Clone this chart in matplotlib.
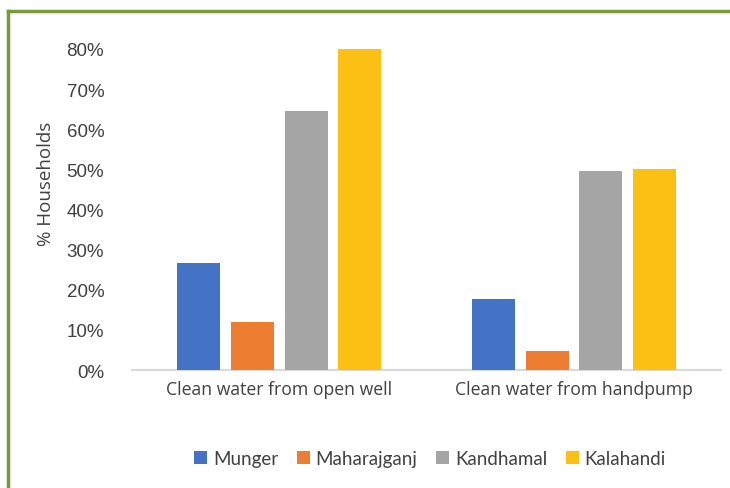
import matplotlib
matplotlib.use("Agg")
import matplotlib.pyplot as plt
from matplotlib.lines import Line2D
import numpy as np

categories = ["Clean water from open well", "Clean water from handpump"]
series_names = ["Munger", "Maharajganj", "Kandhamal", "Kalahandi"]
munger = [0.267, 0.177]
maharajganj = [0.12, 0.048]
kandhamal = [0.646, 0.496]
kalahandi = [0.80, 0.501]
colors = ["#4472C4", "#ED7D31", "#A5A5A5", "#FCBF14"]
yticks = [0, 0.1, 0.2, 0.3, 0.4, 0.5, 0.6, 0.7, 0.8]
ytick_labels = ["0%", "10%", "20%", "30%", "40%", "50%", "60%", "70%", "80%"]

fig = plt.figure(figsize=(7.3, 4.89), dpi=100)
ax = fig.add_axes([0.1808, 0.2413, 0.8069, 0.6565])

values = [munger, maharajganj, kandhamal, kalahandi]
x = np.arange(len(categories))
pitch = 0.1817
width = 0.146
for i, (vals, c, name) in enumerate(zip(values, colors, series_names)):
    ax.bar(x + (i - 1.5) * pitch, vals, width=width, color=c, label=name, zorder=3)

ax.set_xlim(-0.5, 1.5)
ax.set_ylim(0, 0.8)
ax.set_yticks(yticks)
ax.set_yticklabels(ytick_labels, fontsize=13.5, color="#404040", family="Liberation Sans")
ax.set_xticks(x)
ax.set_xticklabels(categories, fontsize=12.7, color="#404040", family="Open Sans")
ax.tick_params(axis="both", length=0)
ax.tick_params(axis="y", pad=20)
ax.tick_params(axis="x", pad=7)
for s in ["top", "right", "left"]:
    ax.spines[s].set_visible(False)
ax.spines["bottom"].set_color("#D9D9D9")
ax.spines["bottom"].set_linewidth(1.5)
ax.set_ylabel("% Households", fontsize=13.5, color="#404040", family="Open Sans")
ax.yaxis.set_label_coords(-0.131, 0.583)

leg = fig.legend(loc="center", bbox_to_anchor=(0.589, 0.06), ncol=4, frameon=False,
                 handlelength=0.7, handleheight=0.7, handletextpad=0.3,
                 columnspacing=1.0, prop={"family": "Lato", "size": 13.5})
for t in leg.get_texts():
    t.set_color("#404040")

# green frame
fig.add_artist(Line2D([8 / 730, 8 / 730], [0, 1 - 12 / 489], transform=fig.transFigure,
                      color="#7A9A3A", linewidth=2.5))
fig.add_artist(Line2D([8 / 730, 1], [1 - 12 / 489, 1 - 12 / 489], transform=fig.transFigure,
                      color="#7A9A3A", linewidth=2.5))

fig.savefig("out.png", dpi=100)
